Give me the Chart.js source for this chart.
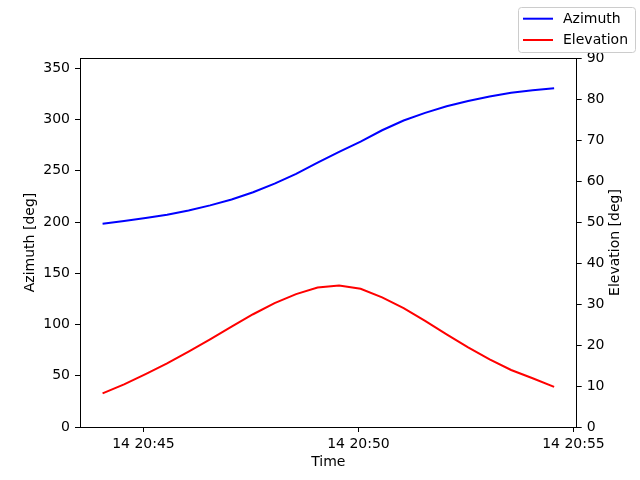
<!DOCTYPE html>
<html>
<head>
<meta charset="utf-8">
<script src="https://cdn.jsdelivr.net/npm/chart.js@4.4.0/dist/chart.umd.min.js"></script>
<style>
  html, body { margin: 0; padding: 0; background: #fff; }
  #wrap { width: 640px; height: 480px; }
</style>
</head>
<body>
<div id="wrap"><canvas id="passChart" width="640" height="480"></canvas></div>
<script>
// Sample times (day 14), one every 30 s
const times = [
    '20:44:03', '20:44:33', '20:45:03', '20:45:33', '20:46:03', '20:46:33',
    '20:47:03', '20:47:33', '20:48:03', '20:48:33', '20:49:03', '20:49:33',
    '20:50:03', '20:50:33', '20:51:03', '20:51:33', '20:52:03', '20:52:33',
    '20:53:03', '20:53:33', '20:54:03', '20:54:33'
];

// Azimuth [deg], left axis
const azimuth = [
    198.3, 201.0, 203.9, 207.1, 211.3, 216.2, 222.0, 229.0, 237.5, 247.0, 258.0,
    268.5, 278.5, 289.5, 299.0, 306.5, 313.0, 318.0, 322.5, 326.0, 328.5, 330.4
];

// Elevation [deg], right axis
const elevation = [
    8.2, 10.4, 12.9, 15.5, 18.4, 21.4, 24.5, 27.5, 30.2, 32.4, 34.0,
    34.5, 33.7, 31.6, 29.0, 25.9, 22.6, 19.4, 16.5, 13.9, 11.9, 9.8
];

// Tick labels
const xTickValues = [60, 360, 660]; // seconds after 20:44:00
const xTickLabels = ['14 20:45', '14 20:50', '14 20:55'];
const azTicks = [0, 50, 100, 150, 200, 250, 300, 350];
const elTicks = [0, 10, 20, 30, 40, 50, 60, 70, 80, 90];

// seconds after 20:44:00
function toSeconds(t) {
    const p = t.split(':').map(Number);
    return (p[0] - 20) * 3600 + (p[1] - 44) * 60 + p[2];
}

const FONT = 'DejaVu Sans';
Chart.defaults.font.family = FONT;
Chart.defaults.font.size = 14;
Chart.defaults.color = '#000';

// top spine, right-hand title (reads upwards) and the boxed legend
const extrasPlugin = {
    id: 'extras',
    afterDraw(chart) {
        const { ctx, chartArea: a } = chart;
        ctx.save();
        ctx.strokeStyle = '#000';
        ctx.lineWidth = 1;
        ctx.beginPath();
        ctx.moveTo(a.left, Math.round(a.top) + 0.5);
        ctx.lineTo(a.right, Math.round(a.top) + 0.5);
        ctx.stroke();

        ctx.font = '14px "' + FONT + '"';
        ctx.fillStyle = '#000';
        ctx.save();
        ctx.translate(615, (a.top + a.bottom) / 2);
        ctx.rotate(-Math.PI / 2);
        ctx.textAlign = 'center';
        ctx.textBaseline = 'middle';
        ctx.fillText('Elevation [deg]', 0, 0);
        ctx.restore();

        // legend box
        const x = 518.5, y = 7.5, w = 117, h = 45, r = 3;
        ctx.beginPath();
        ctx.moveTo(x + r, y);
        ctx.arcTo(x + w, y, x + w, y + h, r);
        ctx.arcTo(x + w, y + h, x, y + h, r);
        ctx.arcTo(x, y + h, x, y, r);
        ctx.arcTo(x, y, x + w, y, r);
        ctx.closePath();
        ctx.fillStyle = 'rgba(255,255,255,0.8)';
        ctx.fill();
        ctx.strokeStyle = '#cccccc';
        ctx.stroke();

        ctx.textAlign = 'left';
        ctx.textBaseline = 'middle';
        chart.data.datasets.forEach((ds, i) => {
            const ly = 18.7 + i * 21.3;
            ctx.strokeStyle = ds.borderColor;
            ctx.lineWidth = 2;
            ctx.beginPath();
            ctx.moveTo(523, ly);
            ctx.lineTo(553, ly);
            ctx.stroke();
            ctx.fillStyle = '#000';
            ctx.fillText(ds.label, 563, ly + 0.5);
        });
        ctx.restore();
    }
};

const axisGrid = { drawOnChartArea: false, drawTicks: true, tickLength: 5, color: '#000', lineWidth: 1 };
const axisBorder = { display: true, color: '#000', width: 1 };

document.addEventListener('DOMContentLoaded', function () {
    const ctx = document.getElementById('passChart').getContext('2d');
    window.passChart = new Chart(ctx, {
        type: 'line',
        data: {
            datasets: [{
                label: 'Azimuth',
                data: times.map((t, i) => ({ x: toSeconds(t), y: azimuth[i] })),
                borderColor: '#0000ff',
                borderWidth: 2,
                pointRadius: 0,
                fill: false,
                tension: 0,
                yAxisID: 'y'
            }, {
                label: 'Elevation',
                data: times.map((t, i) => ({ x: toSeconds(t), y: elevation[i] })),
                borderColor: '#ff0000',
                borderWidth: 2,
                pointRadius: 0,
                fill: false,
                tension: 0,
                yAxisID: 'y1'
            }]
        },
        options: {
            responsive: false,
            animation: false,
            layout: { padding: { top: 58, left: 0, right: 0, bottom: 0 } },
            plugins: {
                legend: { display: false },
                tooltip: { enabled: false }
            },
            scales: {
                x: {
                    type: 'linear',
                    position: 'bottom',
                    min: -28.5,
                    max: 664.5,
                    afterBuildTicks: s => { s.ticks = xTickValues.map(v => ({ value: v })); },
                    afterFit: s => { s.height = 53; },
                    ticks: {
                        autoSkip: false,
                        maxRotation: 0,
                        padding: 4,
                        callback: v => xTickLabels[xTickValues.indexOf(v)]
                    },
                    grid: axisGrid,
                    border: axisBorder,
                    title: { display: true, text: 'Time', padding: { top: 0, bottom: 9.6 } }
                },
                y: {
                    type: 'linear',
                    position: 'left',
                    min: 0,
                    max: 360,
                    afterBuildTicks: s => { s.ticks = azTicks.map(v => ({ value: v })); },
                    afterFit: s => { s.width = 80; },
                    ticks: { padding: 5 },
                    grid: axisGrid,
                    border: axisBorder,
                    title: { display: true, text: 'Azimuth [deg]', padding: { top: 21.6, bottom: 0 } }
                },
                y1: {
                    type: 'linear',
                    position: 'right',
                    min: 0,
                    max: 90,
                    afterBuildTicks: s => { s.ticks = elTicks.map(v => ({ value: v })); },
                    afterFit: s => { s.width = 63.3; },
                    ticks: { padding: 5 },
                    grid: axisGrid,
                    border: axisBorder
                }
            }
        },
        plugins: [extrasPlugin]
    });
});
</script>
</body>
</html>
